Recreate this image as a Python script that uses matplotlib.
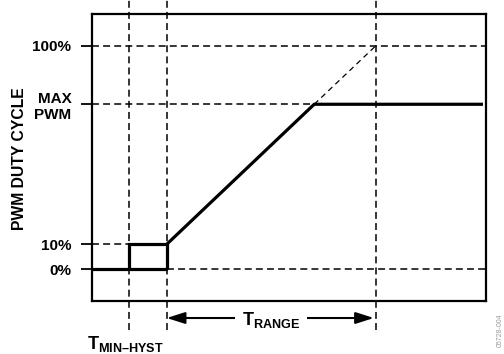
import matplotlib
matplotlib.use("Agg")
import matplotlib.pyplot as plt
from matplotlib.patches import FancyArrowPatch

plt.rcParams['font.family'] = ['Liberation Sans', 'DejaVu Sans']
plt.rcParams['mathtext.fontset'] = 'custom'
plt.rcParams['mathtext.rm'] = 'Liberation Sans'
plt.rcParams['mathtext.bf'] = 'Liberation Sans:bold'
plt.rcParams['lines.scale_dashes'] = False

# schematic levels (positions on the drawing, not true scale)
y_levels = [0, 10, 66, 89.5]
y_labels = ['0%', '10%', 'MAX\nPWM', '100%']
t_min_hyst = 0
t_min = 10
t_max = 66
x_lim = (-9.9, 95.4)
y_lim = (-12.7, 102.1)

y0, y10, y_max_pwm, y100 = y_levels
# where the ramp reaches MAX PWM
x_knee = t_min + (y_max_pwm - y10) / (y100 - y10) * (t_max - t_min)

fig = plt.figure(figsize=(5.04, 3.54), dpi=100)
ax = fig.add_axes([0.1832, 0.1497, 0.7811, 0.8107])
ax.set_xlim(x_lim)
ax.set_ylim(y_lim)

dash = dict(color='black', lw=1.1, ls=(0, (5, 3)))
solid = dict(color='black', lw=2.3, solid_joinstyle='miter', solid_capstyle='butt')

# horizontal guide lines
ax.plot([x_lim[0], x_lim[1]], [y100, y100], **dash)
ax.plot([x_lim[0], x_knee], [y_max_pwm, y_max_pwm], **dash)
ax.plot([x_lim[0], t_min_hyst], [y10, y10], **dash)
ax.plot([t_min, x_lim[1]], [y0, y0], **dash)
# dashed extension of the ramp
ax.plot([x_knee, t_max], [y_max_pwm, y100], color='black', lw=0.9, ls=(0, (4, 3)))

# vertical guide lines (extend past the axes)
for xv in [t_min_hyst, t_min, t_max]:
    ax.plot([xv, xv], [-24.3, 107.7], clip_on=False, **dash)

# PWM curve
ax.plot([x_lim[0], t_min], [y0, y0], **solid)
ax.plot([t_min_hyst, t_min_hyst, t_min, t_min],
        [y0, y10, y10, y0], **solid)
ax.plot([t_min, x_knee, x_lim[1] - 0.8], [y10, y_max_pwm, y_max_pwm], **solid)

ax.set_xticks([])
ax.set_yticks(y_levels)
ax.set_yticklabels(y_labels, fontsize=11, fontweight='bold', multialignment='right')
ax.tick_params(axis='y', direction='out', length=8, width=1.3, pad=7)
for s in ax.spines.values():
    s.set_linewidth(1.6)

ax.set_ylabel('PWM DUTY CYCLE', fontsize=11.3, fontweight='bold')
ax.yaxis.set_label_coords(-0.166, 0.495)

# T_RANGE arrow
y_arrow = -19.5
arr = FancyArrowPatch((t_min, y_arrow), (t_max - 0.6, y_arrow),
                      arrowstyle='<|-|>,head_length=1.1,head_width=0.35',
                      mutation_scale=10, color='black', lw=1.5,
                      shrinkA=0, shrinkB=0, clip_on=False)
ax.add_patch(arr)
ax.text((t_min + t_max) / 2, y_arrow - 0.6, r'$\mathbf{T}_{\mathbf{RANGE}}$',
        fontsize=13, ha='center', va='center', clip_on=False,
        bbox=dict(facecolor='white', edgecolor='none', pad=5))

ax.text(t_min_hyst - 1, -29.8, r'$\mathbf{T}_{\mathbf{MIN–HYST}}$',
        fontsize=13, ha='center', va='center', clip_on=False)

fig.text(0.993, 0.068, '05728-004', rotation=90, fontsize=5,
         color='#999999', ha='center', va='center')

fig.savefig('out.png', dpi=100)
